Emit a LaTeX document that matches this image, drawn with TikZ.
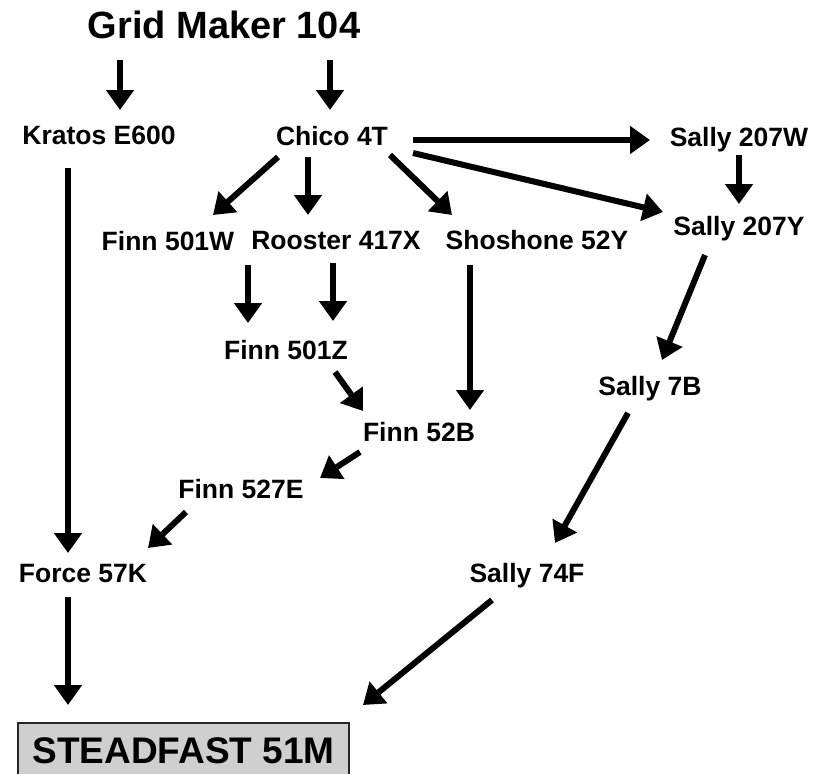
\documentclass[tikz,border=0pt]{standalone}
\usepackage{fontspec}
\setmainfont{Liberation Sans}
\usetikzlibrary{arrows.meta,calc}
\begin{document}
\begin{tikzpicture}[x=1pt,y=-1pt,
  lbl/.style={inner sep=0pt,text height=19pt,text depth=0pt,font=\bfseries\fontsize{26.5}{30}\selectfont},
  ttl/.style={inner sep=0pt,text height=27.2pt,text depth=0pt,font=\bfseries\fontsize{38}{44}\selectfont},
  goal/.style={draw=black!85,line width=2.5pt,fill=black!19,inner xsep=13pt,inner ysep=13.75pt,
    text height=26.5pt,text depth=0pt,minimum width=331pt,font=\bfseries\fontsize{37}{44}\selectfont},
  arr/.style={line width=6pt,-{Triangle[length=20pt,width=27pt]}}]
\useasboundingbox (0,0) rectangle (831,774);
\clip (0,0) rectangle (831,774);
\node[ttl] (grid) at (224,25) {Grid Maker 104};
\node[lbl] (kratos) at (99,135) {Kratos E600};
\node[lbl] (chico) at (332,136) {Chico 4T};
\node[lbl] (s207w) at (739,137) {Sally 207W};
\node[lbl] (s207y) at (739,226) {Sally 207Y};
\node[lbl] (f501w) at (168,241) {Finn 501W};
\node[lbl] (rooster) at (336,240) {Rooster 417X};
\node[lbl] (shoshone) at (537,240) {Shoshone 52Y};
\node[lbl] (f501z) at (286,350) {Finn 501Z};
\node[lbl] (f52b) at (419,432) {Finn 52B};
\node[lbl] (f527e) at (241,489) {Finn 527E};
\node[lbl] (s7b) at (650,386) {Sally 7B};
\node[lbl] (force) at (83,573) {Force 57K};
\node[lbl] (s74f) at (527,573) {Sally 74F};
\node[goal] (steadfast) at (183.5,750) {STEADFAST 51M};

\draw[arr] ($(grid)+(-104,35)$) -- ($(kratos)+(21,-25)$);
\draw[arr] ($(grid)+(106,35)$) -- ($(chico)+(-2,-26)$);
\draw[arr] ($(chico)+(81,4)$) -- ($(s207w)+(-89,3)$);
\draw[arr] ($(chico)+(81,17)$) -- ($(s207y)+(-76,-14)$);
\draw[arr] ($(chico)+(58,19)$) -- ($(shoshone)+(-85,-25)$);
\draw[arr] ($(chico)+(-24,21)$) -- ($(rooster)+(-28,-25)$);
\draw[arr] ($(chico)+(-54,21)$) -- ($(f501w)+(45,-26)$);
\draw[arr] ($(s207w)+(0,18)$) -- ($(s207y)+(0,-22)$);
\draw[arr] ($(f501w)+(80,24)$) -- ($(f501z)+(-38,-27)$);
\draw[arr] ($(rooster)+(-3,23)$) -- ($(f501z)+(47,-29)$);
\draw[arr] ($(f501z)+(49,22)$) -- ($(f52b)+(-56,-21)$);
\draw[arr] ($(shoshone)+(-67,25)$) -- ($(f52b)+(51,-22)$);
\draw[arr] ($(f52b)+(-59,20)$) -- ($(f527e)+(79,-11)$);
\draw[arr] ($(f527e)+(-55,23)$) -- ($(force)+(65,-25)$);
\draw[arr] ($(kratos)+(-31,33)$) -- ($(force)+(-15,-20)$);
\draw[arr] ($(force)+(-15,24)$) -- ($(steadfast)+(-115.5,-45)$);
\draw[arr] ($(s207y)+(-34,29)$) -- ($(s7b)+(12,-26)$);
\draw[arr] ($(s7b)+(-22,27)$) -- ($(s74f)+(28,-30)$);
\draw[arr] ($(s74f)+(-35,27)$) -- ($(steadfast)+(179.5,-45)$);
\end{tikzpicture}
\end{document}
